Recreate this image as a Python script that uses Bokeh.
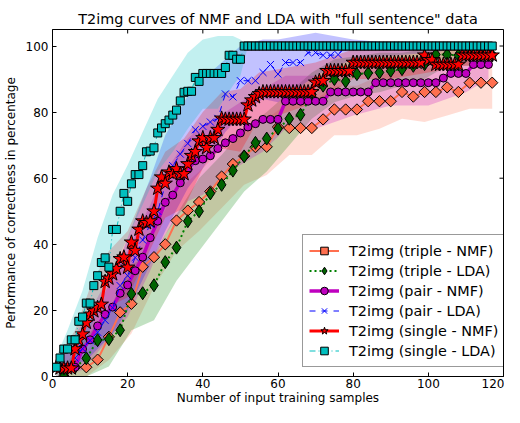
import numpy as np
from bokeh.plotting import figure
from bokeh.models import Range1d, Legend, LegendItem, FixedTicker
from bokeh.embed import file_html
from bokeh.resources import INLINE

# ---------------- data ----------------
single_x = list(range(1, 118))
pair_x = list(range(2, 117, 2))
triple_x = list(range(3, 118, 3))

single_lda = [2.8, 5.6, 8.3, 8.3, 11.1, 11.1, 16.7, 18.0, 22.2, 22.2,
              27.5, 30.5, 34.5, 35.9, 33.1, 44.5, 44.5, 50.0, 55.4, 53.0,
              58.3, 61.1, 61.1, 63.8, 68.0, 68.2, 69.2, 73.7, 75.2, 76.5,
              77.6, 79.1, 80.6, 83.4, 86.0, 86.3, 86.3, 90.5, 89.3, 91.7,
              91.7, 91.7, 91.7, 91.7, 91.7, 93.5, 97.2, 97.2, 96.0, 96.0,
              100, 100, 100, 100, 100, 100, 100, 100, 100, 100,
              100, 100, 100, 100, 100, 100, 100, 100, 100, 100,
              100, 100, 100, 100, 100, 100, 100, 100, 100, 100,
              100, 100, 100, 100, 100, 100, 100, 100, 100, 100,
              100, 100, 100, 100, 100, 100, 100, 100, 100, 100,
              100, 100, 100, 100, 100, 100, 100, 100, 100, 100,
              100, 100, 100, 100, 100, 100, 100]

single_nmf = [2.8, 2.5, 2.5, 2.5, 2.5, 8.3, 11.1, 12.8, 16.3, 18.8,
              19.8, 20.8, 21.8, 28.7, 29.7, 31.0, 32.6, 35.6, 36.1, 33.0,
              40.6, 38.1, 44.5, 47.0, 46.5, 47.0, 50.0, 56.9, 60.3, 58.4,
              61.8, 61.3, 62.8, 61.3, 61.3, 64.3, 66.8, 68.0, 71.2, 72.2,
              69.2, 72.2, 72.2, 74.7, 78.1, 77.8, 77.8, 77.8, 77.8, 77.8,
              77.8, 82.1, 83.6, 84.6, 85.5, 86.1, 86.1, 86.1, 86.1, 86.1,
              86.1, 86.1, 86.1, 86.1, 86.1, 86.1, 86.1, 86.1, 86.1, 89.0,
              89.5, 89.5, 92.5, 92.5, 92.5, 92.5, 92.5, 92.5, 92.5, 95.0,
              95.0, 95.0, 95.0, 95.0, 95.0, 95.0, 95.0, 95.0, 95.0, 95.0,
              95.0, 95.0, 95.0, 95.0, 95.0, 95.0, 95.0, 95.0, 97.2, 95.8,
              95.8, 94.4, 94.4, 94.4, 94.4, 94.4, 94.4, 94.4, 97.2, 97.2,
              97.2, 97.2, 97.2, 97.2, 97.2, 97.2, 97.2]

pair_nmf = [2.8, 2.8, 2.8, 8.3, 11.1, 15.3, 18.8, 21.0, 25.2, 27.7,
            32.0, 36.1, 42.0, 47.0, 52.7, 54.9, 58.6, 62.8, 65.3, 65.8,
            66.8, 69.0, 70.7, 72.0, 73.7, 75.5, 76.5, 77.8, 77.8, 77.8,
            83.3, 83.3, 83.3, 83.3, 83.3, 83.3, 86.1, 86.1, 86.1, 86.1,
            86.1, 86.1, 88.9, 88.9, 88.9, 88.9, 88.9, 88.9, 88.9, 88.9,
            88.9, 90.3, 91.7, 91.7, 91.7, 94.4, 94.4, 94.4]

pair_lda = [2.8, 2.8, 5.6, 8.4, 10.9, 13.4, 17.0, 20.8, 27.5, 30.5,
            36.0, 41.3, 46.0, 50.0, 58.0, 63.8, 67.3, 70.5, 74.7, 75.7,
            77.0, 78.1, 85.5, 84.6, 89.5, 89.5, 89.5, 92.0, 94.4, 91.5,
            95.0, 95.0, 95.0, 98.0, 98.0, 97.2, 97.2, 97.4, 100, 100,
            100, 100, 100, 100, 100, 100, 100, 100, 100, 100,
            100, 100, 100, 100, 100, 100, 100, 100]

triple_nmf = [0.0, 2.8, 2.8, 5.1, 12.0, 19.4, 22.0, 33.2, 36.1, 40.0,
              47.2, 50.2, 52.8, 56.0, 60.5, 64.3, 66.7, 69.4, 69.5, 75.5,
              75.2, 75.2, 75.2, 77.8, 80.8, 80.8, 80.8, 83.3, 83.3, 83.3,
              86.1, 84.7, 86.1, 86.1, 87.5, 86.1, 88.9, 88.9, 88.9]

triple_lda = [0.0, 2.8, 5.5, 11.0, 11.3, 14.0, 25.0, 25.2, 27.6, 34.6,
              39.0, 47.0, 50.0, 55.4, 58.0, 62.3, 66.6, 70.7, 72.0, 75.0,
              78.0, 79.2, 85.3, 88.0, 90.0, 89.3, 91.5, 91.8, 92.0, 92.5,
              93.0, 94.0, 94.5, 97.4, 97.4, 97.2, 97.2, 97.2, 97.2]

# spread bands (read roughly from the shaded areas)
sl_band_x = [1, 4, 8, 12, 16, 20, 24, 28, 32, 36, 40, 44, 48, 50, 52, 117]
sl_band_hi = [6, 14, 26, 42, 55, 64, 74, 84, 91, 98, 102, 103, 103, 102, 100, 100]
sl_band_lo = [0, 2, 8, 20, 32, 42, 52, 62, 68, 75, 81, 81, 88, 91, 100, 100]

pl_band_x = [2, 10, 16, 20, 26, 30, 36, 40, 46, 50, 56, 60, 70, 80, 90, 100, 116]
pl_band_hi = [5, 17, 30, 42, 60, 73, 85, 90, 96, 100, 102, 102, 104, 102, 101, 100, 100]
pl_band_lo = [0, 6, 13, 20, 34, 44, 57, 63, 74, 79, 84, 83, 91, 96, 97, 98, 100]

sn_band_x = [1, 6, 10, 15, 20, 25, 30, 35, 40, 45, 50, 55, 60, 70, 80, 90, 100, 110, 117]
sn_band_hi = [5, 14, 27, 38, 44, 57, 68, 72, 80, 86, 87, 92, 93, 95, 99, 99, 99, 100, 100]
sn_band_lo = [0, 3, 11, 21, 24, 36, 48, 51, 63, 69, 68, 78, 79, 83, 90, 90, 92, 94, 94]

pn_band_x = [2, 8, 14, 20, 26, 30, 36, 40, 46, 50, 56, 62, 70, 80, 90, 100, 110, 116]
pn_band_hi = [6, 16, 28, 38, 52, 62, 72, 76, 80, 83, 87, 91, 91, 93, 95, 95, 97, 99]
pn_band_lo = [0, 2, 10, 18, 32, 43, 53, 55, 61, 64, 68, 75, 75, 79, 82, 82, 86, 90]

t_band_x = [3, 9, 15, 21, 27, 33, 39, 45, 51, 57, 63, 69, 75, 81, 87, 93, 99, 105, 111, 117]
tn_band_hi = [3, 7, 20, 31, 45, 56, 62, 69, 75, 78, 83, 83, 88, 88, 91, 93, 93, 95, 96, 96]
tn_band_lo = [0, 0, 5, 13, 27, 38, 44, 51, 58, 61, 67, 67, 73, 73, 75, 78, 77, 79, 81, 81]
tl_band_hi = [3, 12, 20, 34, 37, 49, 60, 67, 75, 80, 86, 92, 96, 97, 98, 98, 99, 100, 100, 100]
tl_band_lo = [0, 0, 3, 14, 17, 29, 38, 47, 56, 62, 70, 78, 83, 85, 86, 88, 90, 94, 94, 94]

labels = ["T2img (triple - NMF)", "T2img (triple - LDA)", "T2img (pair - NMF)",
          "T2img (pair - LDA)", "T2img (single - NMF)", "T2img (single - LDA)"]
x_ticks = [0, 20, 40, 60, 80, 100, 120]
y_ticks = [0, 20, 40, 60, 80, 100]

# ---------------- styles ----------------
CORAL = "#FF6F4F"
GREEN = "#006400"
MAGENTA = "#BF00BF"
BLUE = "#0000FF"
RED = "#FF0000"
CYAN = "#00BFBF"
FONT = "DejaVu Sans"
BA = 0.24
X0, X1, Y0, Y1 = 0, 120, 0, 105

p = figure(width=504, height=407, output_backend="svg", toolbar_location=None,
           x_range=Range1d(X0, X1), y_range=Range1d(Y0, Y1),
           min_border_left=52, min_border_right=1, min_border_top=29, min_border_bottom=29,
           title='T2img curves of NMF and LDA with "full sentence" data')
p.title.text_font = FONT
p.title.text_font_size = "14.4px"
p.title.text_font_style = "normal"
p.title.align = "center"
p.title.text_color = "black"
p.title.standoff = 6
p.grid.visible = False
p.outline_line_color = "black"
p.outline_line_alpha = 1
p.outline_line_width = 1
p.background_fill_color = "white"
p.border_fill_color = "white"

for ax in (p.xaxis[0], p.yaxis[0]):
    ax.major_tick_in = 4
    ax.major_tick_out = 0
    ax.minor_tick_line_color = None
    ax.axis_line_color = "black"
    ax.major_tick_line_color = "black"
    ax.major_label_text_font = FONT
    ax.major_label_text_font_size = "12px"
    ax.major_label_text_color = "black"
    ax.axis_label_text_font = FONT
    ax.axis_label_text_font_size = "12px"
    ax.axis_label_text_font_style = "normal"
    ax.axis_label_text_color = "black"
p.xaxis[0].major_label_standoff = 2
p.xaxis[0].axis_label_standoff = 0
p.yaxis[0].major_label_standoff = 4
p.yaxis[0].axis_label_standoff = 5
p.xaxis[0].ticker = FixedTicker(ticks=x_ticks)
p.yaxis[0].ticker = FixedTicker(ticks=y_ticks)
p.xaxis[0].axis_label = "Number of input training samples"
p.yaxis[0].axis_label = "Performance of correctness in percentage"

# inward ticks on the top and right frame edges (matplotlib style)
tick_dx = 4 / 3.76
tick_dy = 4 / 3.32
p.segment(x0=x_ticks, y0=[Y1] * len(x_ticks), x1=x_ticks, y1=[Y1 - tick_dy] * len(x_ticks),
          line_color="black", line_width=1)
p.segment(x0=[X1] * len(y_ticks), y0=y_ticks, x1=[X1 - tick_dx] * len(y_ticks), y1=y_ticks,
          line_color="black", line_width=1)

# bands
p.varea(x=t_band_x, y1=tn_band_lo, y2=tn_band_hi, fill_color=CORAL, fill_alpha=BA)
p.varea(x=t_band_x, y1=tl_band_lo, y2=tl_band_hi, fill_color="#008000", fill_alpha=BA)
p.varea(x=pn_band_x, y1=pn_band_lo, y2=pn_band_hi, fill_color=MAGENTA, fill_alpha=BA)
p.varea(x=pl_band_x, y1=pl_band_lo, y2=pl_band_hi, fill_color=BLUE, fill_alpha=BA)
p.varea(x=sn_band_x, y1=sn_band_lo, y2=sn_band_hi, fill_color=RED, fill_alpha=BA)
p.varea(x=sl_band_x, y1=sl_band_lo, y2=sl_band_hi, fill_color=CYAN, fill_alpha=BA)

items = []
l = p.line(triple_x, triple_nmf, line_color=CORAL, line_width=2)
s = p.scatter(triple_x, triple_nmf, marker="square", angle=np.pi / 4, size=8,
              fill_color=CORAL, line_color="black", line_width=1)
items.append(LegendItem(label=labels[0], renderers=[l, s]))

l = p.line(triple_x, triple_lda, line_color="#008000", line_width=2, line_dash="2 3")
s = p.scatter(triple_x, triple_lda, marker="diamond", size=13,
              fill_color=GREEN, line_color="black", line_width=1)
items.append(LegendItem(label=labels[1], renderers=[l, s]))

l = p.line(pair_x, pair_nmf, line_color=MAGENTA, line_width=3.5)
s = p.scatter(pair_x, pair_nmf, marker="circle", size=8,
              fill_color=MAGENTA, line_color="black", line_width=1)
items.append(LegendItem(label=labels[2], renderers=[l, s]))

l = p.line(pair_x, pair_lda, line_color=BLUE, line_width=1, line_dash="6 6")
s = p.scatter(pair_x, pair_lda, marker="x", size=10, line_color=BLUE, line_width=1)
items.append(LegendItem(label=labels[3], renderers=[l, s]))

l = p.line(single_x, single_nmf, line_color=RED, line_width=3)
s = p.scatter(single_x, single_nmf, marker="star", size=15,
              fill_color=RED, line_color="black", line_width=1)
items.append(LegendItem(label=labels[4], renderers=[l, s]))

l = p.line(single_x, single_lda, line_color=CYAN, line_width=1, line_dash="6 3 1 3")
s = p.scatter(single_x, single_lda, marker="square", size=8,
              fill_color=CYAN, line_color="black", line_width=1)
items.append(LegendItem(label=labels[5], renderers=[l, s]))

legend = Legend(items=items, location=(250, 9),
                label_text_font=FONT, label_text_font_size="14.4px",
                label_text_color="black", label_height=19, glyph_height=19,
                glyph_width=30, label_standoff=10, spacing=1, padding=6, margin=0,
                border_line_color="#333333", border_line_width=1,
                background_fill_color="white", background_fill_alpha=1)
p.add_layout(legend)

open("out.html", "w").write(file_html(p, INLINE))
